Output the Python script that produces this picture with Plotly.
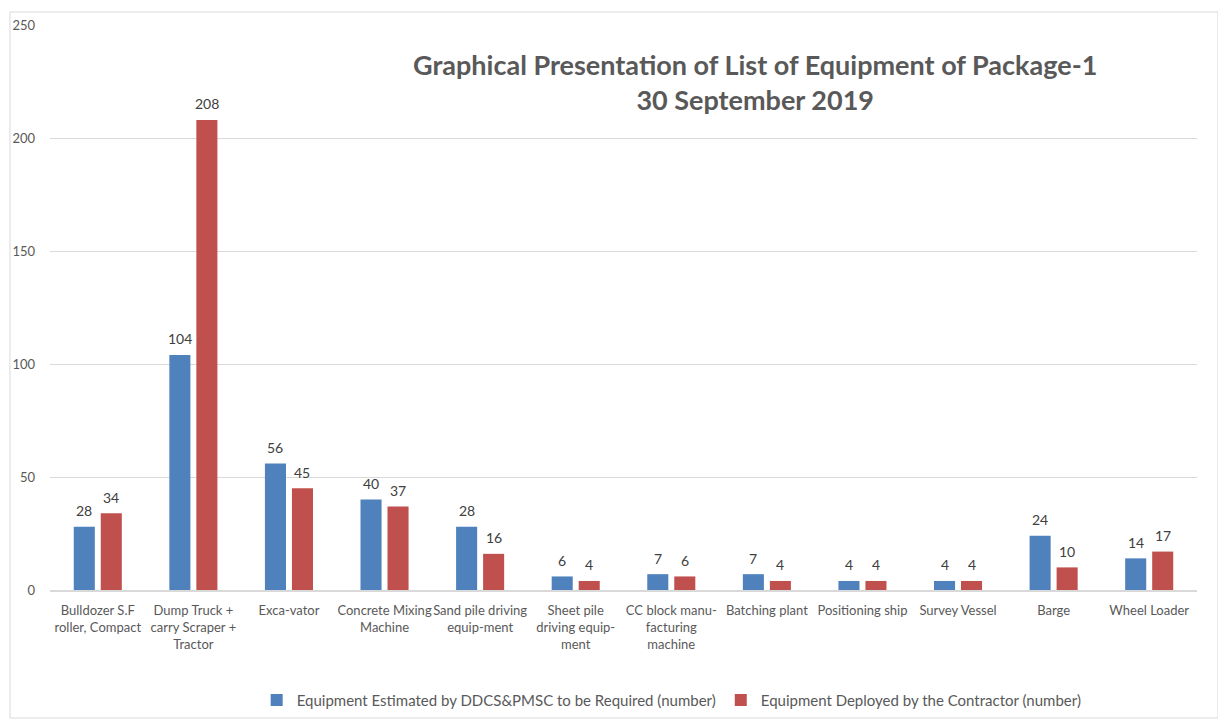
import plotly.graph_objects as go

categories = [
    "Bulldozer S.F<br>roller, Compact",
    "Dump Truck +<br>carry Scraper +<br>Tractor",
    "Exca-vator",
    "Concrete Mixing<br>Machine",
    "Sand pile driving<br>equip-ment",
    "Sheet pile<br>driving equip-<br>ment",
    "CC block manu-<br>facturing<br>machine",
    "Batching plant",
    "Positioning ship",
    "Survey Vessel",
    "Barge",
    "Wheel Loader",
]
estimated = [28, 104, 56, 40, 28, 6, 7, 7, 4, 4, 24, 14]
deployed = [34, 208, 45, 37, 16, 4, 6, 4, 4, 4, 10, 17]
series_names = [
    "Equipment Estimated by DDCS&PMSC to be Required (number)",
    "Equipment Deployed by the Contractor (number)",
]
y_ticks = [0, 50, 100, 150, 200, 250]

FONT = "Lato, Open Sans, sans-serif"
BLUE = "#4F81BD"
RED = "#C0504D"

fig = go.Figure()
fig.add_trace(go.Bar(
    x=categories, y=estimated, name=series_names[0],
    marker=dict(color=BLUE, line=dict(width=0)),
))
fig.add_trace(go.Bar(
    x=categories, y=deployed, name=series_names[1],
    marker=dict(color=RED, line=dict(width=0)),
))

# data labels placed above each bar, following the axis scales
annotations = []
for series, shift in ((estimated, -13.5), (deployed, 13.5)):
    for cat, val in zip(categories, series):
        annotations.append(dict(
            x=cat, y=val, xref="x", yref="y", text=str(val), showarrow=False,
            xanchor="center", yanchor="middle", xshift=shift, yshift=16,
            font=dict(size=14, color="#404040", family=FONT),
        ))

annotations.append(dict(
    text="<b>Graphical Presentation of List of Equipment of Package-1<br>30 September 2019</b>",
    xref="paper", yref="paper", x=0.615, y=0.899,
    xanchor="center", yanchor="middle", showarrow=False,
    font=dict(size=27, color="#595959", family=FONT),
))

fig.update_layout(
    width=1218, height=718,
    margin=dict(l=42, r=29, t=17, b=136, autoexpand=False),
    paper_bgcolor="white", plot_bgcolor="white",
    barmode="group", bargap=0.435, bargroupgap=0.22,
    font=dict(family=FONT, color="#595959"),
    showlegend=True,
    legend=dict(
        orientation="h", x=0.542, xanchor="center", y=-0.195, yanchor="middle",
        font=dict(size=15, color="#595959", family=FONT),
        traceorder="normal", itemwidth=30,
    ),
    xaxis=dict(
        showgrid=False, showline=True, linecolor="#D9D9D9", linewidth=1.5,
        ticks="", tickfont=dict(size=13, color="#595959", family=FONT),
        tickangle=0, ticklabelstandoff=8,
    ),
    yaxis=dict(
        range=[0, 250], tickvals=y_ticks, showgrid=True, gridcolor="#D9D9D9",
        zeroline=False, showline=False, ticks="", ticklabelstandoff=14,
        tickfont=dict(size=13, color="#595959", family=FONT),
    ),
    shapes=[dict(
        type="rect", xref="paper", yref="paper",
        x0=-0.0349, x1=1.0183, y0=-0.2265, y1=1.023,
        line=dict(color="#D9D9D9", width=1), fillcolor="rgba(0,0,0,0)",
        layer="below",
    )],
    annotations=annotations,
)

fig.write_html("out.html")
